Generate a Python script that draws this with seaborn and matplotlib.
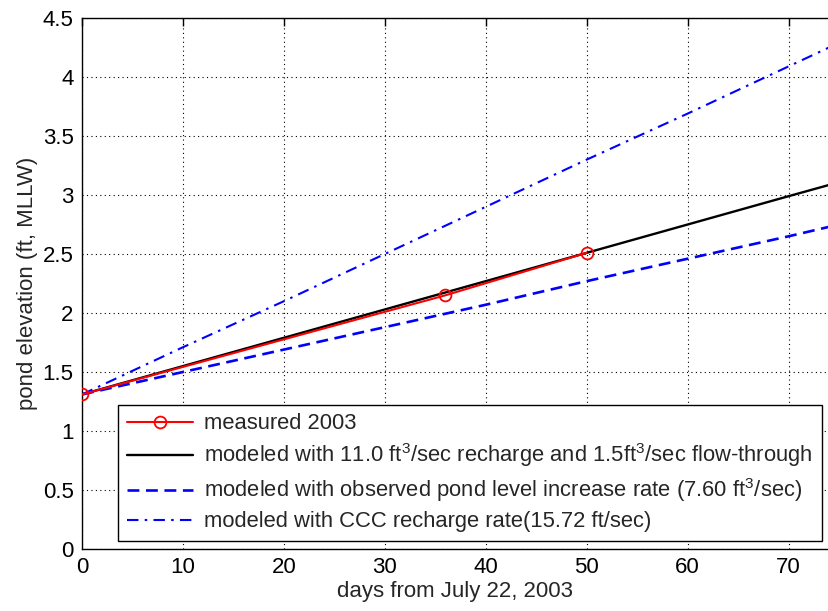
import numpy as np
import pandas as pd
import matplotlib
matplotlib.use("Agg")
import matplotlib.pyplot as plt
from matplotlib.ticker import FuncFormatter
import seaborn as sns

# ---- data ----
meas_days = [0, 36, 50]
meas_elev = [1.31, 2.15, 2.51]

model_days = [0, 5, 10, 15, 20, 25, 30, 35, 40, 45, 50, 55, 60, 65, 70, 74]
model_elev = [1.31, 1.43, 1.55, 1.67, 1.79, 1.91, 2.03, 2.15, 2.27, 2.39, 2.51,
              2.63, 2.75, 2.87, 2.99, 3.085]

obs_days = [0, 10, 20, 30, 40, 50, 60, 70, 74]
obs_elev = [1.31, 1.50, 1.69, 1.88, 2.07, 2.27, 2.46, 2.65, 2.73]

ccc_days = [0, 10, 20, 30, 40, 50, 60, 70, 74]
ccc_elev = [1.31, 1.71, 2.10, 2.50, 2.90, 3.30, 3.69, 4.09, 4.25]

labels = [
    "measured 2003",
    "modeled with 11.0 ft$^3$/sec recharge and 1.5ft$^3$/sec flow-through",
    "modeled with observed pond level increase rate (7.60 ft$^3$/sec)",
    "modeled with CCC recharge rate(15.72 ft/sec)",
]

x_ticks = [0, 10, 20, 30, 40, 50, 60, 70]
y_ticks = [0, 0.5, 1, 1.5, 2, 2.5, 3, 3.5, 4, 4.5]

# ---- style ----
sns.set_style("white")
plt.rcParams["font.family"] = ["Liberation Sans", "DejaVu Sans"]
plt.rcParams["mathtext.fontset"] = "custom"
plt.rcParams["mathtext.rm"] = "Liberation Sans"
plt.rcParams["mathtext.it"] = "Liberation Sans"
plt.rcParams["mathtext.default"] = "regular"

FS = 16

fig = plt.figure(figsize=(8.29, 6.11), dpi=100)
ax = fig.add_axes([82 / 829, 62 / 611, 747 / 829, 531 / 611])

df_meas = pd.DataFrame({"x": meas_days, "y": meas_elev})
df_model = pd.DataFrame({"x": model_days, "y": model_elev})
df_obs = pd.DataFrame({"x": obs_days, "y": obs_elev})
df_ccc = pd.DataFrame({"x": ccc_days, "y": ccc_elev})

sns.lineplot(data=df_model, x="x", y="y", ax=ax, color="black", lw=1.7,
             label=labels[1], zorder=3)
sns.lineplot(data=df_meas, x="x", y="y", ax=ax, color="red", lw=1.5,
             marker="o", markersize=8.5, markerfacecolor="none",
             markeredgecolor="red", markeredgewidth=1.3,
             label=labels[0], zorder=4)
sns.lineplot(data=df_obs, x="x", y="y", ax=ax, color="blue", lw=1.9,
             linestyle=(0, (4.5, 2.5)), label=labels[2], zorder=3)
sns.lineplot(data=df_ccc, x="x", y="y", ax=ax, color="blue", lw=1.5,
             linestyle=(0, (5.5, 3, 1.2, 3)), label=labels[3], zorder=3)

ax.set_xlim(0, 74)
ax.set_ylim(0, 4.5)
ax.set_xticks(x_ticks)
ax.set_yticks(y_ticks)
ax.yaxis.set_major_formatter(FuncFormatter(lambda v, p: "%g" % v))
ax.grid(True, color="black", linestyle=(0, (1, 3)), lw=0.8)
ax.tick_params(direction="in", length=6, width=1, labelsize=FS,
               top=True, right=False, colors="black", pad=6)
for s in ["left", "bottom", "top"]:
    ax.spines[s].set_color("black")
    ax.spines[s].set_linewidth(1.0)
ax.spines["right"].set_visible(False)

ax.set_xlabel("days from July 22, 2003", fontsize=FS, labelpad=2)
ax.set_ylabel("pond elevation (ft, MLLW)", fontsize=FS, labelpad=3)

handles, labs = ax.get_legend_handles_labels()
order = [labs.index(l) for l in labels]
leg = ax.legend([handles[i] for i in order], [labs[i] for i in order],
                loc="lower right", bbox_to_anchor=(0.99, 0.015),
                fontsize=15.8, frameon=True, fancybox=False,
                edgecolor="black", framealpha=1, handlelength=3.0,
                handletextpad=0.5, labelspacing=0.32, borderpad=0.4,
                borderaxespad=0)
leg.get_frame().set_linewidth(1.0)

fig.savefig("out.png", dpi=100)
